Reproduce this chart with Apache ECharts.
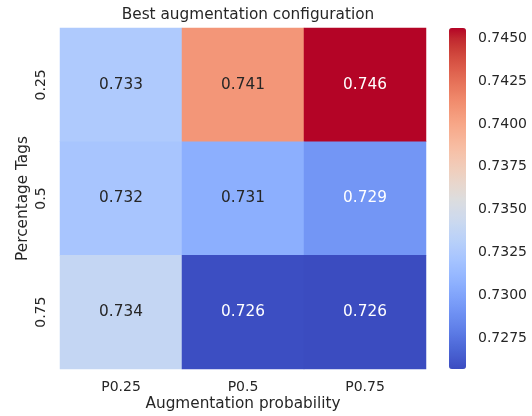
<!DOCTYPE html>
<html>
<head>
<meta charset="utf-8">
<script src="https://cdn.jsdelivr.net/npm/echarts@6/dist/echarts.min.js"></script>
<style>
  html, body { margin: 0; padding: 0; background: #fff; }
  #chart { width: 532px; height: 416px; }
</style>
</head>
<body>
<div id="chart"></div>
<script>
  var xCats = ['P0.25', 'P0.5', 'P0.75'];
  var yCats = ['0.25', '0.5', '0.75'];
  // rows follow yCats, columns follow xCats
  var scores = [
    [0.7326, 0.7408, 0.7456],
    [0.7322, 0.7306, 0.7292],
    [0.7339, 0.7258, 0.7257]
  ];
  var colorbarTicks = [0.7275, 0.7300, 0.7325, 0.7350, 0.7375, 0.7400, 0.7425, 0.7450];

  // matplotlib "coolwarm" (Moreland), 33 samples
  var coolwarm = [
    '#3b4cc0', '#445acc', '#4d68d7', '#5775e1', '#6282ea', '#6c8ef1', '#779af7', '#82a5fb',
    '#8db0fe', '#98b9ff', '#a3c2ff', '#aec9fd', '#b8d0f9', '#c2d5f4', '#ccd9ee', '#d5dbe6',
    '#dddddd', '#e5d8d1', '#ecd3c5', '#f1ccb9', '#f5c4ad', '#f7bba0', '#f7b194', '#f7a687',
    '#f49a7b', '#f18d6f', '#ec7f63', '#e57058', '#de604d', '#d55042', '#cb3e38', '#c0282f',
    '#b40426'
  ];
  var ink = '#262626';
  var font = 'DejaVu Sans';

  var flat = [].concat.apply([], scores);
  var vMin = Math.min.apply(null, flat);
  var vMax = Math.max.apply(null, flat);

  var data = [];
  scores.forEach(function(row, yi) {
    row.forEach(function(v, xi) {
      var f = (v - vMin) / (vMax - vMin);
      var light = f < 0.22 || f > 0.85;
      data.push({
        value: [xi, yi, v],
        label: { color: light ? '#ffffff' : ink }
      });
    });
  });

  var chart = echarts.init(document.getElementById('chart'), null, { renderer: 'canvas' });

  chart.setOption({
    animation: false,
    textStyle: { fontFamily: font },
    title: {
      text: 'Best augmentation configuration',
      left: 243,
      top: 3,
      textAlign: 'center',
      textStyle: { fontFamily: font, fontSize: 15.3, fontWeight: 'normal', color: ink }
    },
    grid: [
      { left: 60, top: 28, width: 366, height: 341, outerBoundsMode: 'none' },
      { left: 449, top: 28, width: 17, height: 341, outerBoundsMode: 'none' }
    ],
    xAxis: [
      {
        type: 'category',
        data: xCats,
        gridIndex: 0,
        name: 'Augmentation probability',
        nameLocation: 'middle',
        nameGap: 28,
        nameMoveOverlap: false,
        nameTextStyle: { fontFamily: font, fontSize: 15.3, color: ink },
        axisLine: { show: false },
        axisTick: { show: false },
        axisLabel: { fontFamily: font, fontSize: 14, color: ink, margin: 11 },
        splitLine: { show: false }
      },
      { type: 'value', gridIndex: 1, show: false, min: 0, max: 1 }
    ],
    yAxis: [
      {
        type: 'category',
        data: yCats,
        inverse: true,
        gridIndex: 0,
        name: 'Percentage Tags',
        nameLocation: 'middle',
        nameRotate: 90,
        nameGap: 29,
        nameMoveOverlap: false,
        nameTextStyle: { fontFamily: font, fontSize: 15.3, color: ink },
        axisLine: { show: false },
        axisTick: { show: false },
        axisLabel: { fontFamily: font, fontSize: 14, color: ink, rotate: 90, margin: 12 },
        splitLine: { show: false }
      },
      {
        type: 'value',
        gridIndex: 1,
        position: 'right',
        min: vMin,
        max: vMax,
        axisLine: { show: false },
        axisTick: { show: true, length: 6, customValues: colorbarTicks, lineStyle: { color: ink, width: 1 } },
        axisLabel: {
          customValues: colorbarTicks,
          fontFamily: font,
          fontSize: 14,
          color: ink,
          margin: 12,
          formatter: function(v) { return v.toFixed(4); }
        },
        splitLine: { show: false }
      }
    ],
    visualMap: {
      type: 'continuous',
      min: vMin,
      max: vMax,
      dimension: 2,
      seriesIndex: 0,
      calculable: false,
      hoverLink: false,
      left: 449,
      top: 28,
      padding: 0,
      itemWidth: 17,
      itemHeight: 341,
      text: null,
      inRange: { color: coolwarm }
    },
    series: [{
      type: 'heatmap',
      xAxisIndex: 0,
      yAxisIndex: 0,
      data: data,
      label: {
        show: true,
        fontFamily: font,
        fontSize: 15.3,
        formatter: function(p) { return p.value[2].toFixed(3); }
      },
      emphasis: { disabled: true }
    }]
  });
</script>
</body>
</html>
